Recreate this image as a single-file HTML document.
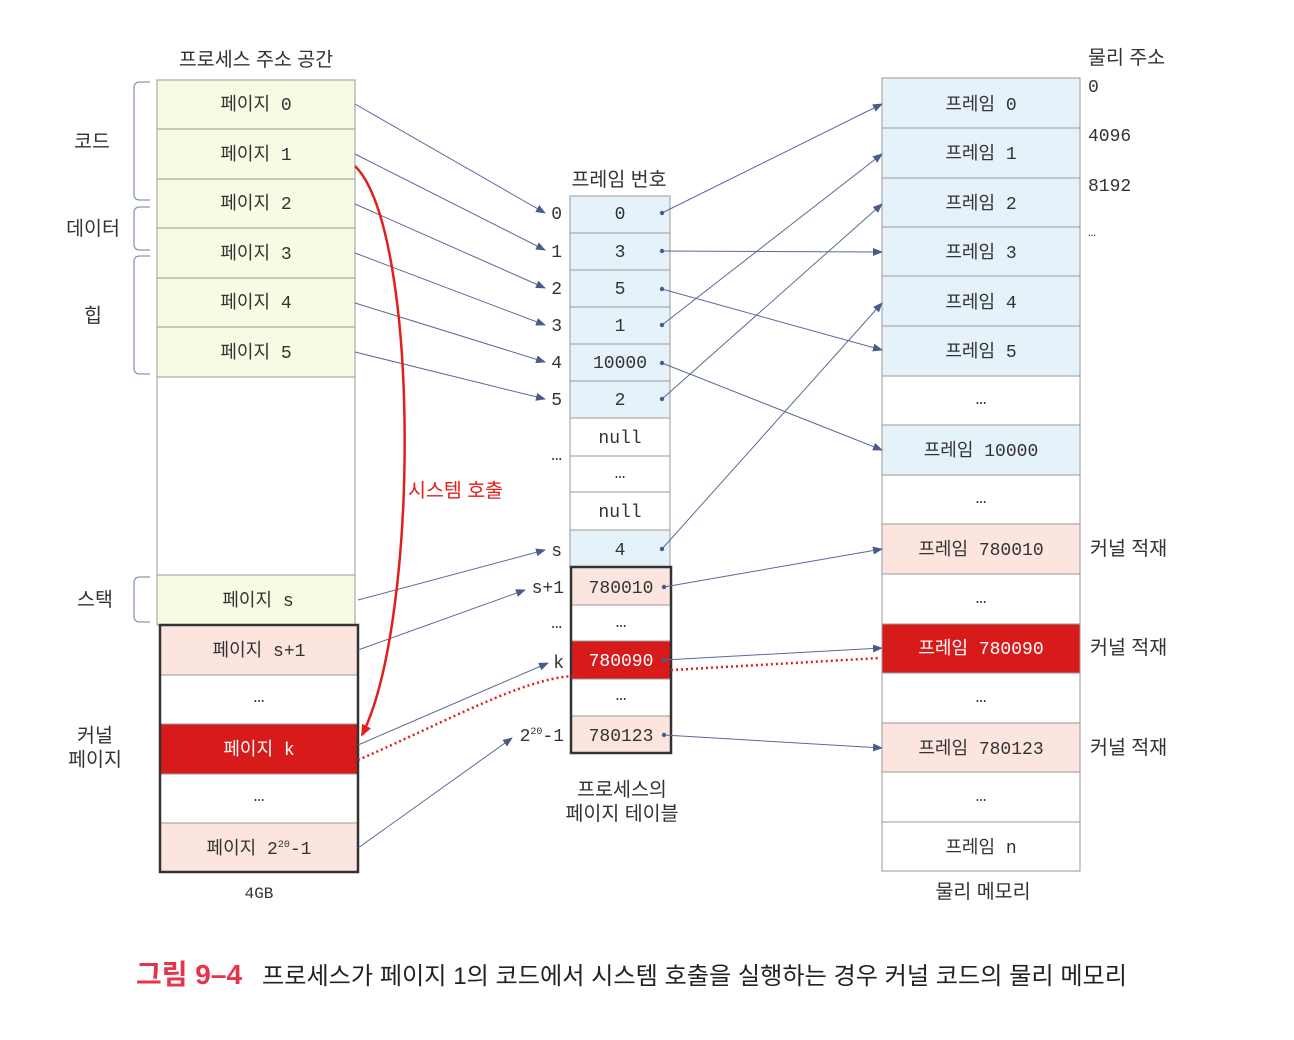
<!DOCTYPE html>
<html><head><meta charset="utf-8"><style>
body{margin:0;background:#fff}
svg{display:block}
text{font-family:"Liberation Mono","Noto Sans CJK KR",monospace;font-size:18px;fill:#333}
.k{font-family:"Liberation Sans","Noto Sans CJK KR",sans-serif;font-size:19.5px}
</style></head><body>
<svg width="1294" height="1040" viewBox="0 0 1294 1040" xmlns="http://www.w3.org/2000/svg">
<defs>
<marker id="a" markerWidth="10" markerHeight="8" refX="9" refY="4" orient="auto" markerUnits="userSpaceOnUse"><path d="M0,0L10,4L0,8z" fill="#4a5a8a"/></marker>
<marker id="r" markerWidth="12" markerHeight="10" refX="10" refY="5" orient="auto" markerUnits="userSpaceOnUse"><path d="M0,0L12,5L0,10z" fill="#e0201c"/></marker>
</defs>
<g stroke="#999" stroke-width="1">
<rect x="157" y="80" width="198" height="297" fill="#f8fae4"/>
<line x1="157" y1="129" x2="355" y2="129"/><line x1="157" y1="179" x2="355" y2="179"/><line x1="157" y1="228" x2="355" y2="228"/><line x1="157" y1="278" x2="355" y2="278"/><line x1="157" y1="327" x2="355" y2="327"/>
<rect x="157" y="377" width="198" height="198" fill="#fff"/>
<rect x="157" y="575" width="198" height="50" fill="#f8fae4"/>
<rect x="160" y="625" width="198" height="50" fill="#fbe5de"/>
<rect x="160" y="675" width="198" height="49" fill="#fff"/>
<rect x="160" y="724" width="198" height="50" fill="#d71a1a"/>
<rect x="160" y="774" width="198" height="49" fill="#fff"/>
<rect x="160" y="823" width="198" height="49" fill="#fbe5de"/>
<rect x="570" y="196" width="100" height="222" fill="#e6f2fa"/>
<line x1="570" y1="233" x2="670" y2="233"/><line x1="570" y1="270" x2="670" y2="270"/><line x1="570" y1="307" x2="670" y2="307"/><line x1="570" y1="344" x2="670" y2="344"/><line x1="570" y1="381" x2="670" y2="381"/>
<rect x="570" y="418" width="100" height="112" fill="#fff"/>
<line x1="570" y1="456" x2="670" y2="456"/><line x1="570" y1="492" x2="670" y2="492"/>
<rect x="570" y="530" width="100" height="37" fill="#e6f2fa"/>
<rect x="571" y="567" width="100" height="38" fill="#fbe5de"/>
<rect x="571" y="605" width="100" height="36" fill="#fff"/>
<rect x="571" y="641" width="100" height="38" fill="#d71a1a"/>
<rect x="571" y="679" width="100" height="37" fill="#fff"/>
<rect x="571" y="716" width="100" height="37" fill="#fbe5de"/>
<rect x="882" y="78" width="198" height="298" fill="#e6f2fa"/>
<line x1="882" y1="128" x2="1080" y2="128"/><line x1="882" y1="178" x2="1080" y2="178"/><line x1="882" y1="227" x2="1080" y2="227"/><line x1="882" y1="276" x2="1080" y2="276"/><line x1="882" y1="326" x2="1080" y2="326"/>
<rect x="882" y="376" width="198" height="49" fill="#fff"/>
<rect x="882" y="425" width="198" height="50" fill="#e6f2fa"/>
<rect x="882" y="475" width="198" height="49" fill="#fff"/>
<rect x="882" y="524" width="198" height="50" fill="#fbe5de"/>
<rect x="882" y="574" width="198" height="50" fill="#fff"/>
<rect x="882" y="624" width="198" height="49" fill="#d71a1a"/>
<rect x="882" y="673" width="198" height="50" fill="#fff"/>
<rect x="882" y="723" width="198" height="49" fill="#fbe5de"/>
<rect x="882" y="772" width="198" height="50" fill="#fff"/>
<rect x="882" y="822" width="198" height="49" fill="#fff"/>
</g>
<g fill="none" stroke="#333" stroke-width="2.5">
<rect x="160" y="625" width="198" height="247"/>
<rect x="571" y="567" width="100" height="186"/>
</g>
<g fill="none" stroke="#8896b8" stroke-width="1.3">
<path d="M150,82H140Q134,82 134,88V194Q134,200 140,200H150"/>
<path d="M150,207H140Q134,207 134,213V244Q134,250 140,250H150"/>
<path d="M150,256H140Q134,256 134,262V368Q134,374 140,374H150"/>
<path d="M150,577H140Q134,577 134,583V616Q134,622 140,622H150"/>
</g>
<g stroke="#5a6a9a" stroke-width="1" fill="none" marker-end="url(#a)">
<line x1="355" y1="104" x2="545" y2="213"/>
<line x1="355" y1="154" x2="545" y2="250"/>
<line x1="355" y1="204" x2="545" y2="288"/>
<line x1="355" y1="253" x2="545" y2="325"/>
<line x1="355" y1="303" x2="545" y2="362"/>
<line x1="355" y1="352" x2="545" y2="399"/>
<line x1="358" y1="600" x2="545" y2="550"/>
<line x1="358" y1="650" x2="525" y2="590"/>
<line x1="358" y1="745" x2="548" y2="663"/>
<line x1="358" y1="848" x2="512" y2="738"/>
<line x1="662" y1="213" x2="882" y2="104"/>
<line x1="662" y1="251" x2="882" y2="252"/>
<line x1="662" y1="289" x2="882" y2="350"/>
<line x1="662" y1="325" x2="882" y2="154"/>
<line x1="662" y1="363" x2="882" y2="450"/>
<line x1="662" y1="399" x2="882" y2="204"/>
<line x1="662" y1="549" x2="882" y2="303"/>
<line x1="664" y1="587" x2="882" y2="549"/>
<line x1="664" y1="660" x2="882" y2="648"/>
<line x1="664" y1="735" x2="882" y2="748"/>
</g>
<g fill="#4a5a8a">
<circle cx="662" cy="213" r="2.2"/><circle cx="662" cy="251" r="2.2"/><circle cx="662" cy="289" r="2.2"/><circle cx="662" cy="325" r="2.2"/><circle cx="662" cy="363" r="2.2"/><circle cx="662" cy="399" r="2.2"/><circle cx="662" cy="549" r="2.2"/><circle cx="664" cy="587" r="2.2"/><circle cx="664" cy="660" r="2.2"/><circle cx="664" cy="735" r="2.2"/>
</g>
<path d="M355,166 C420,230 420,620 362,735" fill="none" stroke="#e0201c" stroke-width="2.5" marker-end="url(#r)"/>
<path d="M358,760 C450,720 520,680 572,676 L672,670 L880,658" fill="none" stroke="#e0201c" stroke-width="2.5" stroke-dasharray="2,3"/>
<text x="408" y="497" class="k" style="fill:#e0201c">시스템 호출</text>
<g text-anchor="middle">
<text x="256" y="66" class="k">프로세스 주소 공간</text>
<text x="256" y="110">페이지 0</text>
<text x="256" y="160">페이지 1</text>
<text x="256" y="209">페이지 2</text>
<text x="256" y="259">페이지 3</text>
<text x="256" y="308">페이지 4</text>
<text x="256" y="358">페이지 5</text>
<text x="258" y="606">페이지 s</text>
<text x="259" y="656">페이지 s+1</text>
<text x="259" y="702">…</text>
<text x="259" y="755" style="fill:#fff">페이지 k</text>
<text x="259" y="801">…</text>
<text x="259" y="854">페이지 2<tspan dy="-7" font-size="10">20</tspan><tspan dy="7">-1</tspan></text>
<text x="259" y="898" style="font-size:16px">4GB</text>
<text x="92" y="148" class="k">코드</text>
<text x="93" y="235" class="k">데이터</text>
<text x="93" y="322" class="k">힙</text>
<text x="95" y="606" class="k">스택</text>
<text x="95" y="742" class="k">커널</text>
<text x="95" y="766" class="k">페이지</text>
<text x="619" y="186" class="k">프레임 번호</text>
<text x="620" y="219">0</text><text x="620" y="257">3</text><text x="620" y="294">5</text><text x="620" y="331">1</text><text x="620" y="368">10000</text><text x="620" y="405">2</text>
<text x="620" y="443">null</text><text x="620" y="478">…</text><text x="620" y="517">null</text><text x="620" y="555">4</text>
<text x="621" y="593">780010</text><text x="621" y="627">…</text><text x="621" y="666" style="fill:#fff">780090</text><text x="621" y="700">…</text><text x="621" y="741">780123</text>
<text x="622" y="796" class="k">프로세스의</text>
<text x="622" y="820" class="k">페이지 테이블</text>
<text x="981" y="110">프레임 0</text><text x="981" y="159">프레임 1</text><text x="981" y="209">프레임 2</text><text x="981" y="258">프레임 3</text><text x="981" y="308">프레임 4</text><text x="981" y="357">프레임 5</text>
<text x="981" y="404">…</text><text x="981" y="456">프레임 10000</text><text x="981" y="503">…</text><text x="981" y="555">프레임 780010</text><text x="981" y="603">…</text><text x="981" y="654" style="fill:#fff">프레임 780090</text><text x="981" y="702">…</text><text x="981" y="754">프레임 780123</text><text x="981" y="801">…</text><text x="981" y="853">프레임 n</text>
<text x="983" y="898" class="k">물리 메모리</text>
</g>
<g text-anchor="end">
<text x="562" y="219">0</text><text x="562" y="257">1</text><text x="562" y="294">2</text><text x="562" y="331">3</text><text x="562" y="368">4</text><text x="562" y="405">5</text>
<text x="562" y="460">…</text><text x="562" y="556">s</text><text x="564" y="593">s+1</text><text x="562" y="628">…</text><text x="564" y="668">k</text>
<text x="564" y="741">2<tspan dy="-7" font-size="10">20</tspan><tspan dy="7">-1</tspan></text>
</g>
<text x="1088" y="64" class="k">물리 주소</text>
<text x="1088" y="92">0</text><text x="1088" y="141">4096</text><text x="1088" y="191">8192</text><text x="1088" y="236" style="font-size:13px">…</text>
<text x="1090" y="555" class="k">커널 적재</text><text x="1090" y="654" class="k">커널 적재</text><text x="1090" y="754" class="k">커널 적재</text>
<text x="136" y="984" class="k" style="fill:#e8334a;font-size:28px;font-weight:bold">그림 9–4</text>
<text x="262" y="984" class="k" style="font-size:24px;fill:#222" textLength="865" lengthAdjust="spacingAndGlyphs">프로세스가 페이지 1의 코드에서 시스템 호출을 실행하는 경우 커널 코드의 물리 메모리</text>
</svg>
</body></html>
